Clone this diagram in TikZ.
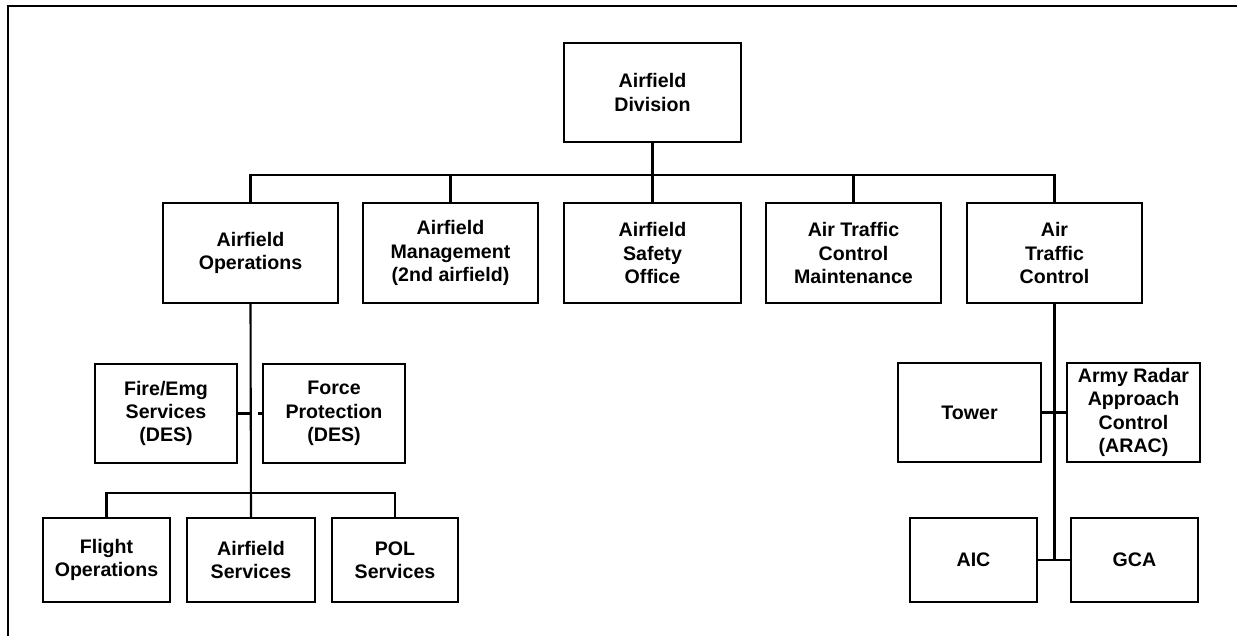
\documentclass[tikz,border=0pt]{standalone}
\usepackage{fontspec}
\setmainfont{Liberation Sans}
\usetikzlibrary{calc}
\begin{document}
\begin{tikzpicture}[x=1pt,y=-1pt,
  box/.style={draw=black,line width=1.7pt,fill=white,align=center,inner sep=0pt,
    font=\fontsize{19.6}{23.4}\selectfont\bfseries},
  conn/.style={draw=black,line width=2.1pt},
  frame/.style={draw=black,line width=2.2pt}]
\useasboundingbox (0,0) rectangle (1237,636);
\fill[white] (0,0) rectangle (1237,636);
\coordinate (ftl) at (8,6);
\coordinate (ftr) at (1237,6);
\coordinate (fbl) at (8,636);
\draw[frame] (ftr) -- (ftl) -- (fbl);
% nodes
\node[box,minimum width=177pt,minimum height=99pt] (div) at (652.5,92.5) {Airfield\\Division};
\node[box,minimum width=175pt,minimum height=100pt] (ops) at (250.5,253) {Airfield\\Operations};
\node[box,minimum width=175pt,minimum height=100pt] (mgmt) at (450.5,253) {Airfield\\Management\\(2nd airfield)};
\node[box,minimum width=177pt,minimum height=100pt] (safe) at (652.5,253) {Airfield\\Safety\\Office};
\node[box,minimum width=175pt,minimum height=100pt] (atcm) at (853.5,253) {Air Traffic\\Control\\Maintenance};
\node[box,minimum width=175pt,minimum height=100pt] (atc) at (1054.5,253) {Air\\Traffic\\Control};
\node[box,minimum width=142pt,minimum height=99pt] (fire) at (166,413.5) {Fire/Emg\\Services\\(DES)};
\node[box,minimum width=142pt,minimum height=99pt] (force) at (334,413.5) {Force\\Protection\\(DES)};
\node[box,minimum width=127pt,minimum height=84pt] (flight) at (106.5,560) {Flight\\Operations};
\node[box,minimum width=128pt,minimum height=84pt] (aserv) at (251,560) {Airfield\\Services};
\node[box,minimum width=126pt,minimum height=84pt] (pol) at (395,560) {POL\\Services};
\node[box,minimum width=143pt,minimum height=99pt] (tower) at (969.5,412.5) {Tower};
\node[box,minimum width=133pt,minimum height=99pt] (arac) at (1133.5,412.5) {Army Radar\\Approach\\Control\\(ARAC)};
\node[box,minimum width=127pt,minimum height=84pt] (aic) at (973.5,560) {AIC};
\node[box,minimum width=127pt,minimum height=84pt] (gca) at (1134.5,560) {GCA};
% coordinates
\coordinate (bus1) at (652.5,175);
\coordinate (bus2) at (251,493);
% top bus
\draw[conn] (div.south) -- (bus1);
\draw[conn] (ops.north) |- (bus1) -| (atc.north);
\draw[conn] (mgmt.north) -- (mgmt.north |- bus1);
\draw[conn] (safe.north) -- (safe.north |- bus1);
\draw[conn] (atcm.north) -- (atcm.north |- bus1);
% ops subtree
\draw[conn] (ops.south) -- (aserv.north);
\draw[conn] (fire.east) -- (fire.east -| ops.south);
\draw[conn] (force.west) -- ($(force.west)+(-4,0)$);
\draw[conn] (flight.north) |- (bus2) -| (pol.north);
% atc subtree
\coordinate (atcend) at (atc.south |- aic.east);
\draw[conn] (atc.south) -- (atcend);
\draw[conn] (tower.east) -- (arac.west);
\draw[conn] (aic.east) -- (gca.west);
\end{tikzpicture}
\end{document}
